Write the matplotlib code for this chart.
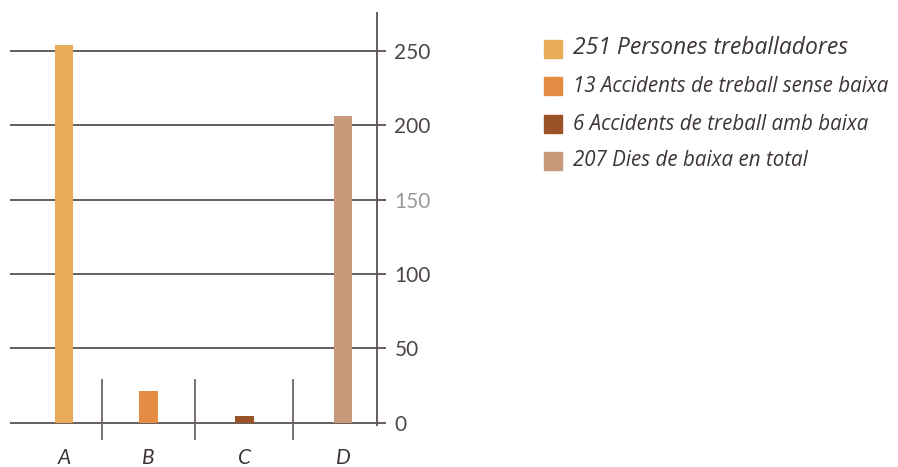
import numpy as np
import matplotlib
matplotlib.use("Agg")
import matplotlib.pyplot as plt
from matplotlib.patches import Rectangle

# === Data ===
categories = ["A", "B", "C", "D"]
values = [254, 21, 4.5, 206]
colors = ["#E8AB58", "#E48C43", "#9A5326", "#C79A7B"]
legend_labels = [
    "251 Persones treballadores",
    "13 Accidents de treball sense baixa",
    "6 Accidents de treball amb baixa",
    "207 Dies de baixa en total",
]
yticks = [0, 50, 100, 150, 200, 250]

# === Layout (not data) ===
bar_pos = [0, 0.908, 1.94, 3.0]
sep_pos = [0.405, 1.409, 2.459]

FONT = ["Lato", "DejaVu Sans"]
LEG_FONT = ["Open Sans", "DejaVu Sans"]
plt.rcParams["font.family"] = FONT

W, H = 898, 467
fig = plt.figure(figsize=(W / 100, H / 100), dpi=100)

left_px, right_px, top_px, bot_px = 10, 386, 5, 440
ax = fig.add_axes([left_px / W, 1 - bot_px / H, (right_px - left_px) / W, (bot_px - top_px) / H])

ax.bar(bar_pos, values, width=0.2, color=colors, zorder=3)

xmin, xmax = -0.581, 3.462
ax.set_xlim(xmin, xmax)
ax.set_ylim(-11.6, 280.7)

line_col = "#5b5252"
ax.hlines(yticks, xmin, xmax, color=line_col, lw=1.3, zorder=2)
ax.vlines(3.362, -2.2, 276, color=line_col, lw=1.3, zorder=2)
ax.vlines(sep_pos, -11.6, 29.5, color="#6e6666", lw=1.3, zorder=2)

for s in ax.spines.values():
    s.set_visible(False)

ax.yaxis.tick_right()
ax.set_yticks(yticks)
ax.set_yticklabels([str(t) for t in yticks], fontsize=15, color="#4d4545")
ax.tick_params(axis="y", length=0, pad=6)
for lab in ax.get_yticklabels():
    if lab.get_text() == "150":
        lab.set_color("#9a9a9a")

ax.set_xticks(bar_pos)
ax.set_xticklabels(categories, fontsize=15, style="italic", color="#3d3535")
ax.tick_params(axis="x", length=0, pad=6)

# legend, drawn by hand
row_y = [48.5, 86, 124, 161]
sizes = [16.5, 14.8, 14.8, 14.8]
for yy, c, lab, fs in zip(row_y, colors, legend_labels, sizes):
    fig.add_artist(Rectangle((544 / W, 1 - (yy + 9) / H), 18 / W, 18 / H,
                             transform=fig.transFigure, color=c))
    fig.text(573 / W, 1 - yy / H, lab, fontsize=fs, style="italic", family=LEG_FONT,
             color="#3d3535", va="center", ha="left")

fig.savefig("out.png", dpi=100)
